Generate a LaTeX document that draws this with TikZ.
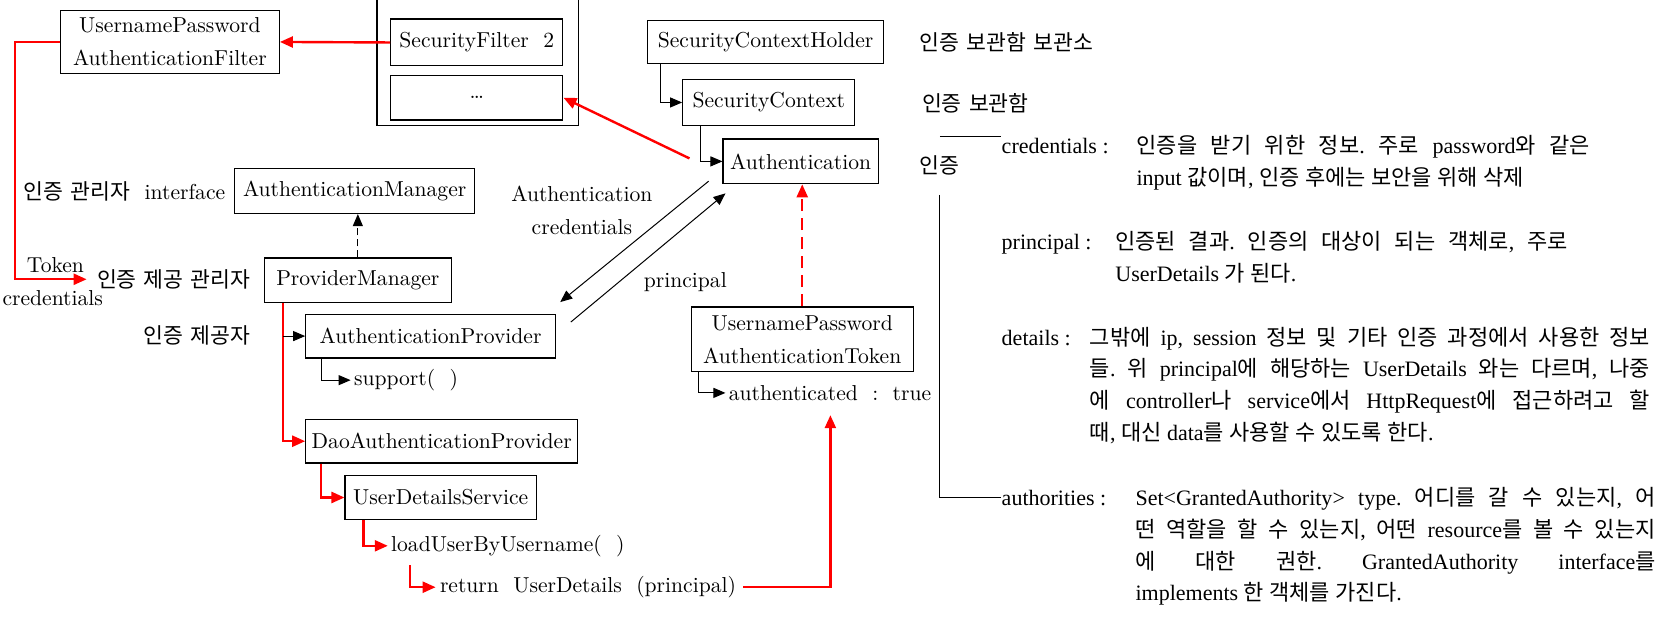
\documentclass[tikz,border=0pt]{standalone}
\usepackage{fontspec}
\usetikzlibrary{arrows.meta}
\newfontfamily\krfont{Noto Sans CJK KR}
\newfontfamily\rtfont{Liberation Serif}
% hangul syllables switch to the korean font by themselves
\XeTeXinterchartokenstate=1
\newXeTeXintercharclass\hangul
\count255="AC00
\loop\XeTeXcharclass\count255=\hangul
\ifnum\count255<"D7A3 \advance\count255 by 1 \repeat
\XeTeXinterchartoks 0 \hangul={\begingroup\krfont}
\XeTeXinterchartoks 4095 \hangul={\begingroup\krfont}
\XeTeXinterchartoks \hangul 0={\endgroup}
\XeTeXinterchartoks \hangul 4095={\endgroup}
\begin{document}
\begin{tikzpicture}[x=0.5309pt,y=0.5309pt,
  font=\fontsize{10.8}{16.5}\selectfont,
  box/.style={draw, line width=0.65pt, align=center},
  wh/.style 2 args={minimum width=#1*0.5309pt, minimum height=#2*0.5309pt},
  link/.style={line width=0.5pt, -{Triangle[length=6pt,width=5pt]}},
  redlink/.style={red, line width=1.2pt, -{Triangle[length=6.5pt,width=5.5pt]}},
  rtext/.style={font=\rtfont\fontsize{11}{15.9}\selectfont\frenchspacing}]
\tikzstyle{every node}+=[inner sep=0pt]
\useasboundingbox (0,0) rectangle (1568,-581);
\clip (0,0) rectangle (1568,-581);
\node [box, wh={190}{138}] (chain) at (450,-49) {};
\node [box, wh={162}{25}] (sf1) at (449,17.5) {};
\node [box, wh={162}{44}] (sf2) at (449,-40) {SecurityFilter\ \ 2};
\node [box, wh={162}{42}] (dots) at (449,-92) {\ldots};
\node [box, wh={206}{59}] (filt) at (160,-39.5) {UsernamePassword\\AuthenticationFilter};
\node [box, wh={222}{41}] (sch) at (721,-39.5) {SecurityContextHolder};
\node [box, wh={162}{43}] (sc) at (724,-96.5) {SecurityContext};
\node [box, wh={146}{42}] (auth) at (754,-152) {Authentication};
\node [box, wh={226}{42}] (mgr) at (334,-180) {AuthenticationManager};
\node [box, wh={176}{42}] (pm) at (337,-264) {ProviderManager};
\node [box, wh={235}{41}] (ap) at (405.5,-316.5) {AuthenticationProvider};
\node [box, wh={256}{41}] (dao) at (416,-415.5) {DaoAuthenticationProvider};
\node [box, wh={180}{41}] (uds) at (415,-468.5) {UserDetailsService};
\node [box, wh={209}{61}] (tok) at (755.5,-319.5) {UsernamePassword\\AuthenticationToken};
\node [anchor=west] (imgr) at (22,-180) {인증 관리자 \ interface};
\node [anchor=west] (ipm) at (91,-263) {인증 제공 관리자};
\node [anchor=west] (tokl) at (25,-250) {Token};
\node [anchor=west] (credl) at (2,-281) {credentials};
\node [anchor=west] (iap) at (135,-316) {인증 제공자};
\node [anchor=west] (sup) at (333,-358) {support(\ \ )};
\node [anchor=west] (load) at (368,-514) {loadUserByUsername(\ \ )};
\node [anchor=west] (ret) at (414,-553) {return\ \ UserDetails\ \ (principal)};
\node [align=center] (acl) at (548,-198) {Authentication\\credentials};
\node [anchor=west] (prl) at (606,-266) {principal};
\node [anchor=west] (authd) at (686,-370) {authenticated\ \ :\ \ true};
\node [anchor=west] (k1) at (866,-40) {인증 보관함 보관소};
\node [anchor=west] (k2) at (868,-97) {인증 보관함};
\node [anchor=west, minimum height=28.7pt] (k3) at (866,-156) {인증};
\node [rtext, anchor=base west] (crl) at (943,-145) {credentials :};
\node [rtext, anchor=base west, text width=226.7pt, align=justify] (crt) at (1070,-145) {인증을 받기 위한 정보. 주로 password와 같은\linebreak input 값이며, 인증 후에는 보안을 위해 삭제};
\node [rtext, anchor=base west] (prl2) at (943,-235) {principal :};
\node [rtext, anchor=base west, text width=226.2pt, align=justify] (prt) at (1050,-235) {인증된 결과. 인증의 대상이 되는 객체로, 주로\linebreak UserDetails 가 된다.};
\node [rtext, anchor=base west] (dtl) at (943,-325) {details :};
\node [rtext, anchor=base west, text width=280pt, align=justify] (dtt) at (1026,-325) {그밖에 ip, session 정보 및 기타 인증 과정에서 사용한 정보\linebreak 들. 위 principal에 해당하는 UserDetails 와는 다르며, 나중\linebreak 에 controller나 service에서 HttpRequest에 접근하려고 할\linebreak 때, 대신 data를 사용할 수 있도록 한다.};
\node [rtext, anchor=base west] (atl) at (943,-476) {authorities :};
\node [rtext, anchor=base west, text width=260pt, align=justify] (att) at (1069,-476) {Set<GrantedAuthority> type. 어디를 갈 수 있는지, 어\linebreak 떤 역할을 할 수 있는지, 어떤 resource를 볼 수 있는지\linebreak 에 대한 권한. GrantedAuthority interface를\linebreak implements 한 객체를 가진다.};
\coordinate (turn) at (14,0);
\coordinate (fork) at ([xshift=9.6pt]pm.south west);
\coordinate (tip) at (782,-391);
\draw [redlink] (sf2.west) -- (filt.east);
\draw [redlink] (filt.west) -- (filt.west -| turn) |- ([xshift=-5pt]ipm.west);
\draw [link] ([xshift=6.9pt]sch.south west) |- (sc.west);
\draw [link] ([xshift=9pt]sc.south west) |- (auth.west);
\draw [redlink] ([xshift=-16.5pt,yshift=1.5pt]auth.west) -- (dots.east);
\draw [link, dash pattern=on 3.5pt off 2pt] (pm.north) -- (pm.north |- mgr.south);
\draw [redlink] (fork) |- (dao.west);
\draw [link] (fork |- ap.west) -- (ap.west);
\draw [link] ([xshift=8pt]ap.south west) |- ([xshift=-1.5pt]sup.west);
\draw [redlink] ([xshift=8pt]dao.south west) |- (uds.west);
\draw [redlink] ([xshift=9.6pt]uds.south west) |- ([xshift=-1.5pt]load.west);
\draw [redlink] ([xshift=9.6pt,yshift=-4pt]load.south west) |- ([xshift=-2pt]ret.west);
\draw [link] ([xshift=3.7pt]tok.south west) |- ([xshift=-1.5pt]authd.west);
\draw [redlink, dash pattern=on 6pt off 3.5pt] (tok.north) -- (tok.north |- auth.south);
\draw [redlink] ([xshift=3.5pt]ret.east) -| (tip);
\draw [link] ([xshift=-6.9pt,yshift=1.6pt]auth.south west) -- ([xshift=2.1pt,yshift=5.8pt]ap.north east);
\draw [link] ([xshift=7.4pt,yshift=-4.2pt]ap.north east) -- ([xshift=1.5pt,yshift=-4.5pt]auth.south west);
\draw [line width=0.5pt] (k3.north) -- (k3.north -| crl.west);
\draw [line width=0.5pt] (k3.south) |- (atl.west);
\end{tikzpicture}
\end{document}
